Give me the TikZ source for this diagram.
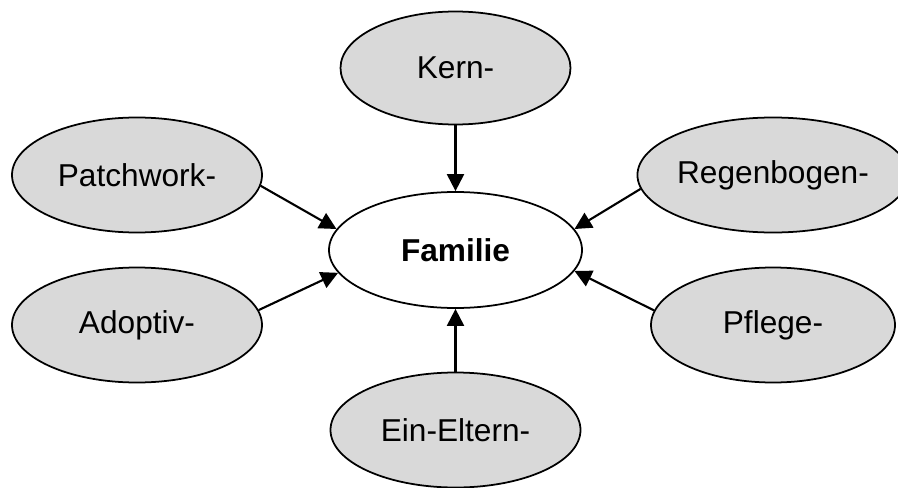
\documentclass[tikz,border=0pt]{standalone}
\usepackage{fontspec}
\setmainfont{Liberation Sans}
\usepackage{xcolor}
\definecolor{ovalgray}{RGB}{217,217,217}
\usepackage{tikz}
\usetikzlibrary{shapes.geometric}
\usetikzlibrary{arrows.meta}
\newcommand{\widthoval}{5cm}
\newcommand{\heightoval}{2.3cm}
\tikzset{
    common/.style={draw, ellipse, line width=1pt, inner sep=0pt, font=\fontsize{18}{22}\selectfont},
    kind/.style={common, fill=ovalgray, minimum width=\widthoval, minimum height=\heightoval},
    core/.style={common, fill=white, minimum width=5.06cm, minimum height=2.32cm},
    feeds/.style={draw, line width=1.2pt, -{Triangle[length=3.4mm, width=3.4mm]}}
}

\begin{document}
\begin{tikzpicture}
        \useasboundingbox (0,0) rectangle (17.96,-9.76);

        \path
            (9.11,-5.0) node[core] (Fam) {\textbf{Familie}}
            (9.11,-1.36) node[kind, minimum width=4.6cm, minimum height=2.26cm] (Kern) {Kern-}
            (2.74,-3.5) node[kind] (Patchwork) {Patchwork-}
            (15.46,-3.5) node[kind, minimum width=4.88cm] (Regenbogen) {Regenbogen-}
            (2.74,-6.5) node[kind] (Adoptiv) {Adoptiv-}
            (15.46,-6.5) node[kind, minimum width=4.88cm] (Pflege) {Pflege-}
            (9.11,-8.6) node[kind] (EinEltern) {Ein-Eltern-};

        \path
          (Kern.south) edge[feeds] (Fam.north)
          (EinEltern.north) edge[feeds] (Fam.south)
          (Patchwork.-5) edge[feeds] (Fam.170)
          (Adoptiv.7) edge[feeds] (Fam.191)
          (Regenbogen.186) edge[feeds] (Fam.10)
          (Pflege.173) edge[feeds] (Fam.350);
\end{tikzpicture}
\end{document}
